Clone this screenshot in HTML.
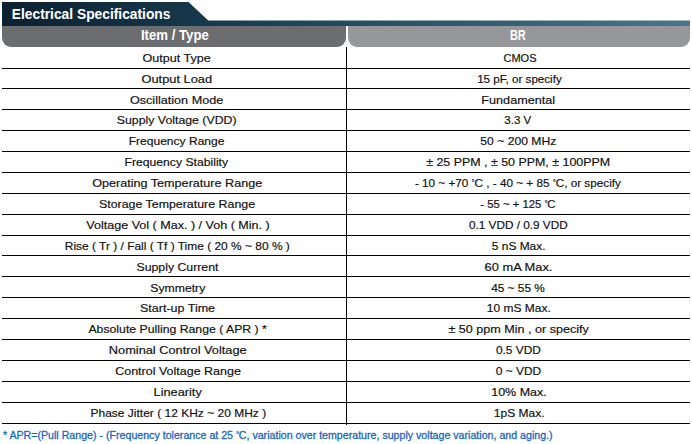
<!DOCTYPE html>
<html><head><meta charset="utf-8"><style>
html,body{margin:0;padding:0;background:#fff;width:692px;height:444px;overflow:hidden;position:relative;font-family:"Liberation Sans",sans-serif}
.t{position:absolute;width:400px;height:16px;line-height:16px;font-size:11.5px;color:#111;text-align:center;-webkit-text-stroke:0.18px #111;white-space:nowrap;transform-origin:200px 50%}
.dg{letter-spacing:-0.3px;font-size:8px;position:relative;top:-2px;line-height:0}
.hl{position:absolute;left:2px;width:688px;height:1px;background:#000}
.vl{position:absolute;left:346px;top:47px;width:1px;height:378px;background:#000}
.g1{position:absolute;left:2px;top:26px;width:344px;height:21px;background:#6c6d71;border-radius:0 0 9px 9px}
.g2{position:absolute;left:348px;top:26px;width:342px;height:21px;background:#96979b;border-radius:0 0 9px 9px}
.hd{position:absolute;top:24.5px;width:400px;height:21px;line-height:21px;font-size:14.5px;font-weight:bold;color:#fff;text-align:center;transform-origin:200px 50%}
.title{position:absolute;left:12px;top:2px;height:24px;line-height:24px;font-size:15px;font-weight:bold;color:#fff;transform-origin:0 50%}
.foot{position:absolute;left:3px;top:427px;-webkit-text-stroke:0.3px #1867bf;line-height:16px;font-size:11px;letter-spacing:0px;color:#1867bf;white-space:nowrap;transform-origin:0 50%}
</style></head><body>
<svg width="692" height="444" style="position:absolute;left:0;top:0">
<defs>
<linearGradient id="bar" x1="0" x2="1" y1="0" y2="0">
<stop offset="0" stop-color="#0c2030"/>
<stop offset="0.3" stop-color="#163a4c"/>
<stop offset="1" stop-color="#4c7588"/>
</linearGradient>
</defs>
<path d="M2 2 L188.5 2 L208.3 20.5 L690 20.5 L690 26 L2 26 Z" fill="url(#bar)"/>
</svg>
<div class="g1"></div><div class="g2"></div>
<div class="title" style="transform:translateX(-0.24px) scaleX(0.9196)">Electrical Specifications</div>
<div class="hd" style="left:-23.5px;transform:translateX(-2.11px) scaleX(0.9102)">Item / Type</div>
<div class="hd" style="left:318.5px;transform:translateX(-1.12px) scaleX(0.7544)">BR</div>
<div class="vl"></div>
<div class="t" style="top:50px;left:-23.5px;transform:translateX(-0.44px) scaleX(1.0914)">Output Type</div>
<div class="t" style="top:50px;left:318.5px;transform:translateX(0.98px) scaleX(0.9571)">CMOS</div>
<div class="t" style="top:71px;left:-23.5px;transform:translateX(-0.22px) scaleX(1.1155)">Output Load</div>
<div class="t" style="top:71px;left:318.5px;transform:translateX(0.45px) scaleX(1.0098)">15 pF, or specify</div>
<div class="t" style="top:92px;left:-23.5px;transform:translateX(-0.42px) scaleX(1.0972)">Oscillation Mode</div>
<div class="t" style="top:92px;left:318.5px;transform:translateX(-0.78px) scaleX(1.0992)">Fundamental</div>
<div class="t" style="top:112px;left:-23.5px;transform:translateX(-0.31px) scaleX(1.0705)">Supply Voltage (VDD)</div>
<div class="t" style="top:112px;left:318.5px;transform:translateX(-1.17px) scaleX(1.0044)">3.3 V</div>
<div class="t" style="top:133px;left:-23.5px;transform:translateX(-0.43px) scaleX(1.0472)">Frequency Range</div>
<div class="t" style="top:133px;left:318.5px;transform:translateX(-0.67px) scaleX(1.0555)">50 ~ 200 MHz</div>
<div class="t" style="top:154px;left:-23.5px;transform:translateX(-0.73px) scaleX(1.0596)">Frequency Stability</div>
<div class="t" style="top:154px;left:318.5px;transform:translateX(-0.85px) scaleX(1.0789)">± 25 PPM , ± 50 PPM, ± 100PPM</div>
<div class="t" style="top:175px;left:-23.5px;transform:translateX(0.20px) scaleX(1.0958)">Operating Temperature Range</div>
<div class="t" style="top:175px;left:318.5px;transform:translateX(-1.11px) scaleX(1.0192)">- 10 ~ +70 <span class="dg">°</span>C , - 40 ~ + 85 <span class="dg">°</span>C, or specify</div>
<div class="t" style="top:196px;left:-23.5px;transform:translateX(0.01px) scaleX(1.0773)">Storage Temperature Range</div>
<div class="t" style="top:196px;left:318.5px;transform:translateX(-1.15px) scaleX(0.9844)">- 55 ~ + 125 <span class="dg">°</span>C</div>
<div class="t" style="top:217px;left:-23.5px;transform:translateX(1.00px) scaleX(1.0911)">Voltage Vol ( Max. ) / Voh ( Min. )</div>
<div class="t" style="top:217px;left:318.5px;transform:translateX(-0.65px) scaleX(1.0225)">0.1 VDD / 0.9 VDD</div>
<div class="t" style="top:238px;left:-23.5px;transform:translateX(0.30px) scaleX(1.0382)">Rise ( Tr ) / Fall ( Tf ) Time ( 20 % ~ 80 % )</div>
<div class="t" style="top:238px;left:318.5px;transform:translateX(-0.34px) scaleX(1.0383)">5 nS Max.</div>
<div class="t" style="top:259px;left:-23.5px;transform:translateX(0.45px) scaleX(1.0689)">Supply Current</div>
<div class="t" style="top:259px;left:318.5px;transform:translateX(-0.51px) scaleX(1.1161)">60 mA Max.</div>
<div class="t" style="top:280px;left:-23.5px;transform:translateX(0.75px) scaleX(1.0631)">Symmetry</div>
<div class="t" style="top:280px;left:318.5px;transform:translateX(-1.01px) scaleX(1.0296)">45 ~ 55 %</div>
<div class="t" style="top:300px;left:-23.5px;transform:translateX(0.51px) scaleX(1.0879)">Start-up Time</div>
<div class="t" style="top:300px;left:318.5px;transform:translateX(-0.21px) scaleX(1.0414)">10 mS Max.</div>
<div class="t" style="top:321px;left:-23.5px;transform:translateX(0.65px) scaleX(1.0654)">Absolute Pulling Range ( APR ) *</div>
<div class="t" style="top:321px;left:318.5px;transform:translateX(-0.35px) scaleX(1.0939)">± 50 ppm Min , or specify</div>
<div class="t" style="top:342px;left:-23.5px;transform:translateX(0.75px) scaleX(1.1118)">Nominal Control Voltage</div>
<div class="t" style="top:342px;left:318.5px;transform:translateX(-0.59px) scaleX(1.0347)">0.5 VDD</div>
<div class="t" style="top:363px;left:-23.5px;transform:translateX(1.04px) scaleX(1.0863)">Control Voltage Range</div>
<div class="t" style="top:363px;left:318.5px;transform:translateX(-0.49px) scaleX(1.0393)">0 ~ VDD</div>
<div class="t" style="top:384px;left:-23.5px;transform:translateX(0.67px) scaleX(1.1095)">Linearity</div>
<div class="t" style="top:384px;left:318.5px;transform:translateX(-0.06px) scaleX(1.0850)">10% Max.</div>
<div class="t" style="top:405px;left:-23.5px;transform:translateX(1.31px) scaleX(1.0432)">Phase Jitter ( 12 KHz ~ 20 MHz )</div>
<div class="t" style="top:405px;left:318.5px;transform:translateX(0.13px) scaleX(1.0434)">1pS Max.</div>
<div class="hl" style="top:68px"></div>
<div class="hl" style="top:88px"></div>
<div class="hl" style="top:109px"></div>
<div class="hl" style="top:130px"></div>
<div class="hl" style="top:151px"></div>
<div class="hl" style="top:172px"></div>
<div class="hl" style="top:193px"></div>
<div class="hl" style="top:214px"></div>
<div class="hl" style="top:235px"></div>
<div class="hl" style="top:255px"></div>
<div class="hl" style="top:276px"></div>
<div class="hl" style="top:297px"></div>
<div class="hl" style="top:318px"></div>
<div class="hl" style="top:339px"></div>
<div class="hl" style="top:360px"></div>
<div class="hl" style="top:381px"></div>
<div class="hl" style="top:402px"></div>
<div class="hl" style="top:423px"></div>
<div class="foot" style="transform:translateX(-0.12px) scaleX(0.9664)">* APR=(Pull Range) - (Frequency tolerance at 25 <span class="dg">°</span>C, variation over temperature, supply voltage variation, and aging.)</div>
</body></html>
